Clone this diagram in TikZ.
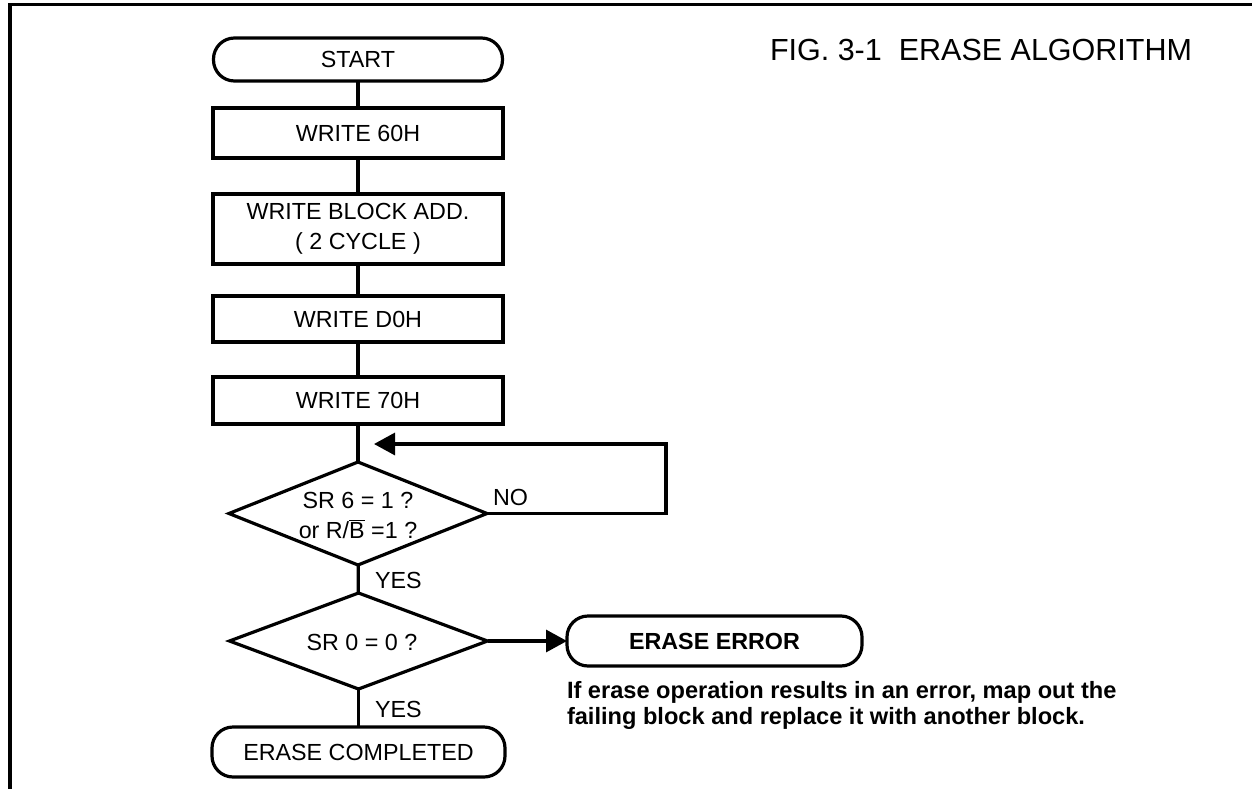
\documentclass[tikz,border=0pt]{standalone}
\usepackage{fontspec}
\setmainfont{Liberation Sans}
\usetikzlibrary{shapes.geometric,arrows.meta}

\begin{document}
\begin{tikzpicture}[x=1pt,y=-1pt,
  line width=3.2pt,
  every node/.style={font=\fontsize{23.3}{26}\selectfont, inner sep=0pt, outer sep=0pt},
  procbox/.style={draw, rectangle, minimum width=290pt},
  termbox/.style={draw, rectangle, rounded corners=21pt},
  decbox/.style={draw, diamond, minimum width=258pt},
  tip/.style={-{Triangle[length=21pt,width=22pt]}},
  lbl/.style={anchor=base west},
]
\useasboundingbox (0,0) rectangle (1252,789);

% page frame (left and top edges)
\draw (10,789) -- (10,4.5) -- (1252,4.5);

% title
\node[anchor=base west, font=\fontsize{30.5}{34}\selectfont] (title) at (770,61)
  {FIG. 3-1\ \ ERASE ALGORITHM};

% main column
\node[termbox, minimum width=289pt, minimum height=43pt] (start) at (358,59.5) {START};
\node[procbox, minimum height=50pt] (w60) at (358,133) {WRITE 60H};
\node[procbox, minimum height=70pt, align=center, font=\fontsize{23.3}{30}\selectfont]
  (wblk) at (358,229) {WRITE BLOCK ADD.\\( 2 CYCLE )};
\node[procbox, minimum height=46pt] (wd0) at (358,319) {WRITE D0H};
\node[procbox, minimum height=47pt] (w70) at (358,400.5) {WRITE 70H};

\node[decbox, minimum height=103pt] (d1) at (358,513.5) {};
\node[anchor=base, align=center, font=\fontsize{23.3}{30}\selectfont] (d1txt) at (358,538)
  {SR 6 = 1 ?\\or R/$\overline{\hbox{B}}$ =1 ?};

\node[decbox, minimum height=96pt] (d2) at (358.5,641) {};
\node[anchor=base] (d2txt) at (362,650) {SR 0 = 0 ?};

\node[termbox, minimum width=293pt, minimum height=50pt] (done) at (358.5,752) {ERASE COMPLETED};
\node[termbox, minimum width=295pt, minimum height=50pt, font=\bfseries\fontsize{23.3}{26}\selectfont]
  (err) at (714.5,641) {ERASE ERROR};

\node[anchor=base west, align=left, font=\bfseries\fontsize{23.6}{26}\selectfont] (note) at (567,724)
  {If erase operation results in an error, map out the\\failing block and replace it with another block.};

% branch labels
\node[lbl] (no) at (493,505) {NO};
\node[lbl] (yes1) at (375,588) {YES};
\node[lbl] (yes2) at (375,717) {YES};

% connectors
\draw (start) -- (w60);
\draw (w60) -- (wblk);
\draw (wblk) -- (wd0);
\draw (wd0) -- (w70);
\draw (w70) -- (d1);
\draw (d1) -- (d2);
\draw (d2) -- (done);
\draw[tip] (d2.east) -- (err.west);

% polling loop back above the first decision
\coordinate (loopTop) at (666,444);
\coordinate (loopTip) at (374,444);
\draw[tip] (d1.east) -| (loopTop) -- (loopTip);
\end{tikzpicture}
\end{document}
